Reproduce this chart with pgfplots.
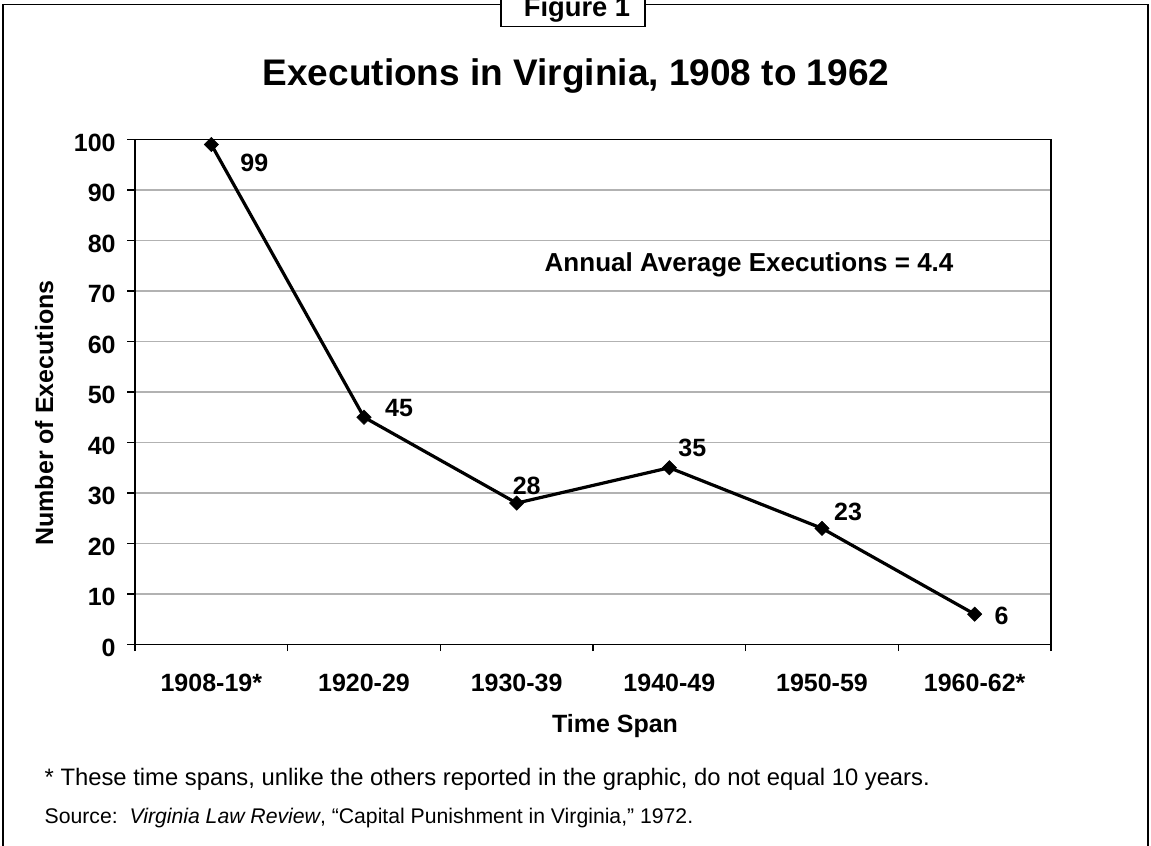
\documentclass[border=0pt]{standalone}
\usepackage{pgfplots}
\pgfplotsset{compat=1.18}
\usepackage{fontspec}
\setmainfont{Liberation Sans}

% 1 px of the reference = 0.75pt
\newcommand{\lab}{\bfseries\fontsize{18.75}{20}\selectfont}

\begin{document}
\begin{tikzpicture}[x=0.75pt, y=0.75pt]
\useasboundingbox (0,0) rectangle (1151,845);
% outer frame
\draw[line width=0.8pt] (3,-10) rectangle (1148,840.5);

\begin{axis}[
    at={(101.25pt,150.375pt)}, anchor=south west,
    scale only axis, width=687pt, height=378.75pt,
    xmin=-0.5, xmax=5.5, ymin=0, ymax=100,
    xtick={0,...,5},
    xticklabels={1908-19*,1920-29,1930-39,1940-49,1950-59,1960-62*},
    minor xtick={-0.5,0.5,...,5.5},
    ytick={0,10,...,100},
    tick pos=left,
    tick align=outside,
    major x tick style={draw=none},
    major tick length=6pt,
    minor tick length=5pt,
    tick style={black, line width=0.8pt},
    axis line style={line width=1.4pt},
    ymajorgrids,
    grid style={gray!60, line width=0.8pt},
    ticklabel style={font=\lab},
    /pgf/number format/assume math mode=true,
    xticklabel style={anchor=base, yshift=-29pt},
    yticklabel style={anchor=east, xshift=-5pt, yshift=-2.5pt},
    clip=false,
]
\addplot[black, line width=2.4pt, mark=square*,
    mark options={solid, rotate=45, line width=0.4pt}, mark size=3.8pt]
    coordinates {(0,99) (1,45) (2,28) (3,35) (4,23) (5,6)};

\node[font=\lab] at (axis cs:0,99) [xshift=32.25pt, yshift=-13.9pt] {99};
\node[font=\lab] at (axis cs:1,45) [xshift=26.25pt, yshift=6.75pt] {45};
\node[font=\lab] at (axis cs:2,28) [xshift=7.5pt, yshift=12.75pt] {28};
\node[font=\lab] at (axis cs:3,35) [xshift=17.25pt, yshift=15pt] {35};
\node[font=\lab] at (axis cs:4,23) [xshift=19.5pt, yshift=12pt] {23};
\node[font=\lab] at (axis cs:5,6) [xshift=20.25pt, yshift=-1.5pt] {6};
\end{axis}

% title, figure tag, annotation, axis titles
\node[anchor=base, font=\bfseries\fontsize{27.75}{30}\selectfont] at (576,759) {Executions in Virginia, 1908 to 1962};
\draw[fill=white, line width=0.8pt] (501,818.5) rectangle (645,850);
\node[anchor=base, font=\bfseries\fontsize{20.5}{22}\selectfont] at (577,828.3) {Figure 1};
\node[anchor=base west, font=\bfseries\fontsize{19.5}{21}\selectfont] at (540,573) {Annual Average Executions = 4.4};
\node[anchor=base, font=\lab] at (615,112) {Time Span};
\node[anchor=base, rotate=90, font=\lab] at (53,432) {Number of Executions};

% notes
\node[anchor=base west, font=\fontsize{17.85}{19}\selectfont] at (40,59.3)
    {* These time spans, unlike the others reported in the graphic, do not equal 10 years.};
\node[anchor=base west, font=\fontsize{15.9}{17}\selectfont] at (40,22)
    {Source:\ \ \textit{Virginia Law Review}, “Capital Punishment in Virginia,” 1972.};
\end{tikzpicture}
\end{document}
